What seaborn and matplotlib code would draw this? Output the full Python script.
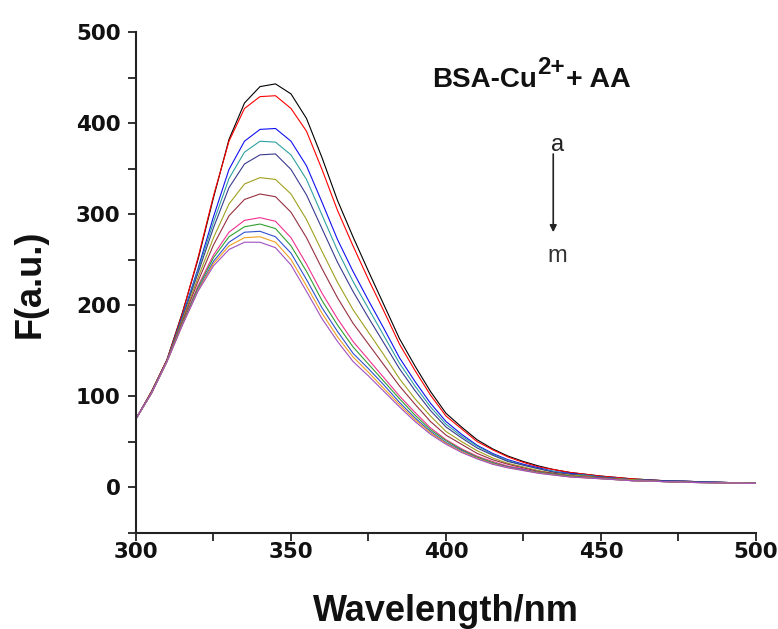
import numpy as np
import pandas as pd
import matplotlib
matplotlib.use("Agg")
import matplotlib.pyplot as plt
import seaborn as sns

# ---- data ----
wavelength = [300, 305, 310, 315, 320, 325, 330, 335, 340, 345, 350, 355, 360, 365, 370,
              375, 380, 385, 390, 395, 400, 405, 410, 415, 420, 425, 430, 435, 440, 445,
              450, 460, 470, 480, 490, 500]

curve_a = [75, 105, 140, 192, 250, 318, 382, 422, 440, 443, 432, 405, 362, 315, 275,
           237, 200, 163, 133, 105, 81, 66, 52, 42, 34, 28, 23, 19, 16, 14, 12, 9, 7, 6, 5, 4]
curve_b = [75, 105, 140, 191, 252, 320, 380, 416, 429, 430, 416, 391, 349, 304, 265,
           228, 193, 157, 128, 101, 78, 64, 50, 41, 33, 27, 22, 19, 16, 14, 12, 9, 7, 6, 5, 4]
curve_c = [75, 104, 139, 188, 240, 297, 349, 380, 393, 394, 380, 353, 313, 272, 237,
           205, 174, 142, 116, 92, 72, 58, 46, 37, 30, 25, 21, 17, 15, 13, 11, 8, 7, 6, 5, 4]
curve_d = [75, 104, 139, 187, 238, 291, 339, 368, 380, 379, 365, 338, 299, 260, 226,
           196, 166, 136, 111, 88, 69, 56, 45, 36, 29, 24, 20, 17, 14, 13, 11, 8, 7, 6, 5, 4]
curve_e = [75, 104, 139, 186, 235, 285, 329, 355, 365, 366, 349, 321, 284, 247, 215,
           186, 158, 130, 106, 84, 66, 54, 43, 35, 28, 24, 20, 16, 14, 12, 11, 8, 7, 6, 5, 4]
curve_f = [75, 104, 139, 184, 230, 274, 311, 333, 340, 338, 322, 294, 259, 225, 195,
           170, 145, 119, 97, 78, 61, 50, 40, 32, 26, 22, 18, 15, 13, 12, 10, 8, 6, 5, 5, 4]
curve_g = [75, 104, 139, 182, 226, 266, 298, 316, 322, 319, 302, 274, 240, 208, 180,
           157, 134, 111, 91, 72, 57, 47, 37, 30, 25, 21, 17, 15, 12, 11, 10, 7, 6, 5, 4.5, 4]
curve_h = [75, 103, 138, 180, 221, 255, 280, 293, 296, 292, 274, 245, 213, 185, 160,
           140, 120, 100, 82, 65, 52, 42, 34, 28, 23, 20, 16, 14, 12, 11, 9.5, 7, 6, 5, 4.5, 4]
curve_i = [75, 103, 138, 180, 219, 252, 275, 286, 289, 284, 265, 237, 205, 178, 154,
           135, 116, 97, 79, 63, 51, 41, 33, 27, 22, 19, 16, 14, 12, 10.5, 9.3, 7, 6, 5, 4.5, 4]
curve_j = [75, 103, 138, 179, 217, 248, 269, 280, 281, 275, 257, 228, 197, 171, 147,
           130, 112, 93, 76, 61, 49, 40, 32, 26, 22, 19, 15.5, 13.4, 11.3, 10.3, 9.2, 7, 6, 5, 4.5, 4]
curve_k = [75, 103, 138, 178.5, 216, 245.5, 265, 274, 275, 269, 250, 221, 191, 165, 143,
           126, 108, 90.5, 74, 59.6, 48, 39, 31.7, 25.6, 21.4, 18.3, 15.3, 13.2, 11.2, 10.1, 9.1, 7, 6, 5, 4.5, 4]
curve_l = [75, 103, 138, 178, 215, 243, 261, 269, 269, 263, 244, 215, 185, 160, 138,
           122, 105, 88, 72, 58, 47, 38, 31, 25, 21, 18, 15, 13, 11, 10, 9, 7, 6, 5, 4.5, 4]

curve_names = list("abcdefghijkl")
curves = [curve_a, curve_b, curve_c, curve_d, curve_e, curve_f,
          curve_g, curve_h, curve_i, curve_j, curve_k, curve_l]
colors = ["#000000", "#FF0000", "#1010F0", "#2FA0A0", "#3A3A90", "#A0A020",
          "#953040", "#F03090", "#30A030", "#3050D0", "#F0A020", "#A050C0"]

x_ticks = [300, 350, 400, 450, 500]
y_ticks = [0, 100, 200, 300, 400, 500]

df = pd.concat([pd.DataFrame({"wavelength": wavelength, "F": c, "curve": n})
                for n, c in zip(curve_names, curves)], ignore_index=True)

# ---- style ----
sns.set_theme(style="white")
plt.rcParams["font.family"] = ["Liberation Sans", "DejaVu Sans"]

fig = plt.figure(figsize=(7.78, 6.29), dpi=100)
ax = fig.add_axes([0.1748, 0.1534, 0.7969, 0.7957])

sns.lineplot(data=df, x="wavelength", y="F", hue="curve", palette=colors,
             linewidth=0.8, legend=False, ax=ax, estimator=None)

ax.set_xlim(300, 500)
ax.set_ylim(-50, 500)
ax.set_xticks(x_ticks)
ax.set_yticks(y_ticks)
ax.set_xticks([325, 375, 425, 475], minor=True)
ax.set_yticks([-50, 50, 150, 250, 350, 450], minor=True)

for s in ["top", "right"]:
    ax.spines[s].set_visible(False)
for s in ["left", "bottom"]:
    ax.spines[s].set_linewidth(1.5)
    ax.spines[s].set_color("#222222")

ax.tick_params(which="both", direction="out", length=6, width=1.3, color="#222222",
               bottom=True, left=True)
ax.tick_params(axis="y", pad=5)
ax.tick_params(axis="x", pad=0.5)
for lab in ax.get_xticklabels() + ax.get_yticklabels():
    lab.set_fontfamily("DejaVu Sans")
    lab.set_fontweight("bold")
    lab.set_fontsize(15.5)
    lab.set_color("#111111")

ax.set_xlabel("Wavelength/nm", fontsize=26, fontweight="bold", color="#111111")
ax.set_ylabel("F(a.u.)", fontsize=26, fontweight="bold", color="#111111")
ax.xaxis.set_label_coords(0.5, -0.122)
ax.yaxis.set_label_coords(-0.143, 0.4965)

# title text built from pieces: "BSA-Cu" + superscript "2+" + "+ AA"
t1 = ax.text(395.5, 440, "BSA-Cu", fontsize=20, fontweight="bold",
             ha="left", va="baseline", color="#111111")
t2 = ax.annotate("2+", xy=(1, 0), xycoords=t1, xytext=(0.5, 10),
                 textcoords="offset points", fontsize=17.5, fontweight="bold",
                 ha="left", va="bottom", color="#111111")
ax.annotate("+ AA", xy=(1, 0), xycoords=(t2, t1), xytext=(0.5, 0),
            textcoords="offset points", fontsize=20.5, fontweight="bold",
            ha="left", va="bottom", color="#111111")

ax.text(436, 376, "a", fontsize=17, ha="center", va="center", color="#222222")
ax.text(436, 254, "m", fontsize=17, ha="center", va="center", color="#333333")
ax.annotate("", xy=(434.6, 280), xytext=(434.6, 366),
            arrowprops=dict(arrowstyle="-|>", color="#222222", lw=1.2,
                            mutation_scale=10, shrinkA=0, shrinkB=0))

fig.savefig("out.png", dpi=100, facecolor="white")
